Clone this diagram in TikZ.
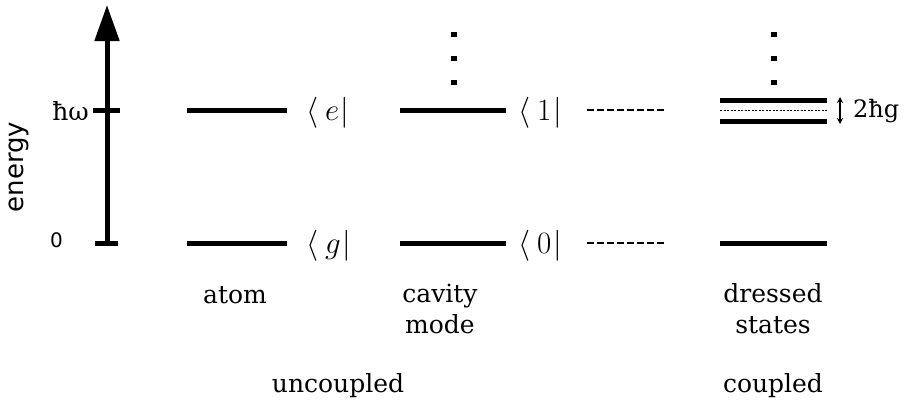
\documentclass[tikz,border=0pt]{standalone}
\usepackage{fix-cm}
\usepackage{fontspec}
\setmainfont{DejaVu Serif}
\setsansfont{DejaVu Sans}
\usetikzlibrary{arrows.meta}
\tikzset{
  level/.style={line width=5pt},
  thinlink/.style={line width=2.5pt, dash pattern=on 6.5pt off 3.5pt},
  midline/.style={line width=0.8pt, dash pattern=on 2pt off 1.5pt},
  dot/.style={fill=black},
  lbl/.style={font=\fontsize{25}{31}\selectfont, align=center, inner sep=0pt, anchor=base},
  ket/.style={font=\fontsize{31}{34}\selectfont, anchor=base west, inner sep=0pt},
}
\newcommand{\vdot}[2]{\fill[dot] (#1-2.75,#2-2.75) rectangle ++(5.5,5.5);}
\newcommand{\bra}[1]{$\langle\mkern4mu #1\mkern1mu|$}
\begin{document}
\begin{tikzpicture}[x=1pt,y=-1pt]
\useasboundingbox (0,0) rectangle (904,400);

% energy axis
\coordinate (ax0) at (107,243);
\coordinate (axtop) at (107,5);
\draw[line width=5pt, -{Triangle[width=24pt,length=36pt]}] (ax0) -- (axtop);
\coordinate (t1a) at (93,110); \coordinate (t1b) at (120,110);
\coordinate (t0a) at (95,243); \coordinate (t0b) at (118,243);
\draw[level] (t1a) -- (t1b);
\draw[level] (t0a) -- (t0b);
\node[anchor=base east, inner sep=0pt, font=\fontsize{25}{30}\selectfont] (hw) at (89,120) {ħω};
\node[anchor=base east, inner sep=0pt, font=\sffamily\fontsize{20}{24}\selectfont] (zero) at (63,247) {0};
\node[rotate=90, inner sep=0pt, font=\sffamily\fontsize{26}{30}\selectfont] (energy) at (19,167) {energy};

% atom
\coordinate (ae1) at (187,110); \coordinate (ae2) at (287,110);
\coordinate (ag1) at (187,243); \coordinate (ag2) at (287,243);
\draw[level] (ae1) -- (ae2);
\draw[level] (ag1) -- (ag2);
\node[ket] (ke) at (306,120) {\bra{e}};
\node[ket] (kg) at (306,253) {\bra{g}};
\node[lbl] (atom) at (235,303) {atom};

% cavity mode
\coordinate (c11) at (400,110); \coordinate (c12) at (506,110);
\coordinate (c01) at (400,243); \coordinate (c02) at (506,243);
\draw[level] (c11) -- (c12);
\draw[level] (c01) -- (c02);
\vdot{454}{34.5}
\vdot{454}{58.5}
\vdot{454}{82.5}
\node[ket] (k1) at (518,120) {\bra{1}};
\node[ket] (k0) at (518,253) {\bra{0}};
\node[lbl] (cavity) at (440,333) {cavity\\mode};

% correspondence to the coupled levels
\coordinate (d11) at (587,110); \coordinate (d12) at (667,110);
\coordinate (d01) at (587,243); \coordinate (d02) at (667,243);
\draw[thinlink] (d11) -- (d12);
\draw[thinlink] (d01) -- (d02);

% dressed states
\coordinate (sp1) at (720,100.5); \coordinate (sp2) at (827,100.5);
\coordinate (sm1) at (720,121.5); \coordinate (sm2) at (827,121.5);
\coordinate (sc1) at (720,110.8); \coordinate (sc2) at (827,110.8);
\coordinate (sg1) at (720,243); \coordinate (sg2) at (827,243);
\draw[level] (sp1) -- (sp2);
\draw[level] (sm1) -- (sm2);
\draw[midline] (sc1) -- (sc2);
\draw[level] (sg1) -- (sg2);
\vdot{774}{34.5}
\vdot{774}{58.5}
\vdot{774}{82.5}
\coordinate (spa) at (840,97); \coordinate (spb) at (840,124);
\draw[line width=1.5pt, {Stealth[length=6pt,width=6pt]}-{Stealth[length=6pt,width=6pt]}] (spa) -- (spb);
\node[anchor=base west, inner sep=0pt, font=\fontsize{24}{28}\selectfont] (split) at (853,117) {2ħg};
\node[lbl] (dressed) at (773,333) {dressed\\states};

% grouping labels
\node[lbl] (unc) at (338,392) {uncoupled};
\node[lbl] (cpl) at (773,392) {coupled};
\end{tikzpicture}
\end{document}
